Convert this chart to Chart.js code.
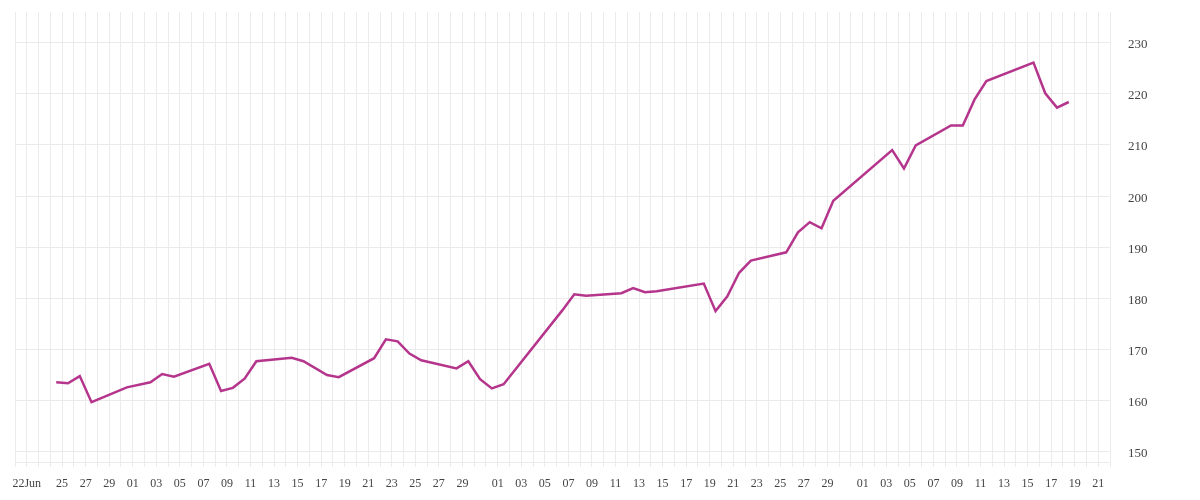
<!DOCTYPE html>
<html>
<head>
<meta charset="utf-8">
<script src="https://cdn.jsdelivr.net/npm/chart.js@4"></script>
<style>
  html, body { margin: 0; padding: 0; background: #fff; }
  #wrap { width: 1200px; height: 500px; }
</style>
</head>
<body>
<div id="wrap"><canvas id="price-line"></canvas></div>
<script>
const ctxPriceLine = document.getElementById('price-line').getContext('2d')

// day 0 = 22 Jun 2022, values sampled at noon
const START_DATE = new Date(2022, 5, 22)
const SAMPLE_OFFSET = 0.5

const sampleDays = [
  2, 3, 4, 5, 8, 10, 11, 12, 15, 16, 17, 18, 19, 22, 23, 25, 26, 29, 30, 31,
  32, 33, 36, 37, 38, 39, 40, 45, 46, 47, 50, 51, 52, 53, 57, 58, 59, 60, 61,
  64, 65, 66, 67, 68, 73, 74, 75, 78, 79, 80, 81, 85, 86, 87, 88,
]
const prices = [
  163.6, 163.4, 164.8, 159.7, 162.6, 163.6, 165.2, 164.7, 167.2, 161.9,
  162.5, 164.3, 167.7, 168.4, 167.7, 165.0, 164.6, 168.3, 172.0, 171.6,
  169.2, 167.9, 166.3, 167.7, 164.2, 162.4, 163.2, 177.7, 180.8, 180.5,
  181.0, 182.0, 181.2, 181.4, 182.9, 177.5, 180.4, 185.0, 187.4,
  189.0, 192.9, 194.9, 193.7, 199.1, 209.0, 205.4, 209.9, 213.8, 213.8,
  218.9, 222.5, 226.1, 220.1, 217.3, 218.4,
]
const yTicks = [150, 160, 170, 180, 190, 200, 210, 220, 230]

const GRID_COLOR = '#ebebeb'
const LABEL_COLOR = '#444'

const pad2 = n => (n < 10 ? '0' : '') + n

const dayLabel = idx => {
  const d = new Date(START_DATE.getFullYear(), START_DATE.getMonth(), START_DATE.getDate() + idx)
  const day = d.getDate()
  if (idx === 0) {
    return day + d.toLocaleString('en-US', { month: 'short' })
  }
  // odd days, skipping the one crowded by the first label and the 31st
  if (idx > 1 && day % 2 === 1 && day !== 31) {
    return pad2(day)
  }
  return ''
}

const dataPriceLine = {
  datasets: [
    {
      data: sampleDays.map((d, i) => ({ x: d + SAMPLE_OFFSET, y: prices[i] })),
      borderColor: '#b5358c',
      borderWidth: 2.5,
      pointRadius: 0,
      tension: 0,
      fill: false,
    },
  ],
}

const configPriceLine = {
  type: 'line',
  data: dataPriceLine,
  options: {
    responsive: true,
    maintainAspectRatio: false,
    animation: false,
    layout: { padding: { left: 15, top: 12, right: 0, bottom: 0 } },
    plugins: {
      legend: { display: false },
      tooltip: { enabled: false },
    },
    scales: {
      x: {
        type: 'linear',
        min: -1,
        max: 92,
        grid: { color: GRID_COLOR, tickLength: 5 },
        border: { color: GRID_COLOR },
        ticks: {
          stepSize: 1,
          autoSkip: false,
          maxRotation: 0,
          padding: 10,
          color: LABEL_COLOR,
          font: { family: 'Liberation Serif', size: 12 },
          callback: value => dayLabel(Math.round(value)),
        },
        afterFit: scale => {
          scale.height = 38
          scale.paddingLeft = 0
          scale.paddingRight = 0
        },
      },
      y: {
        position: 'right',
        min: 148,
        max: 236,
        grid: { color: GRID_COLOR, drawTicks: false },
        border: { color: GRID_COLOR },
        afterBuildTicks: scale => {
          scale.ticks = yTicks.map(v => ({ value: v }))
        },
        ticks: {
          padding: 18,
          labelOffset: 2,
          color: LABEL_COLOR,
          font: { family: 'Liberation Serif', size: 13 },
        },
        afterFit: scale => {
          scale.width = 90
          scale.paddingTop = 0
          scale.paddingBottom = 0
        },
      },
    },
  },
}
const priceLineChart = new Chart(ctxPriceLine, configPriceLine)
</script>
</body>
</html>
